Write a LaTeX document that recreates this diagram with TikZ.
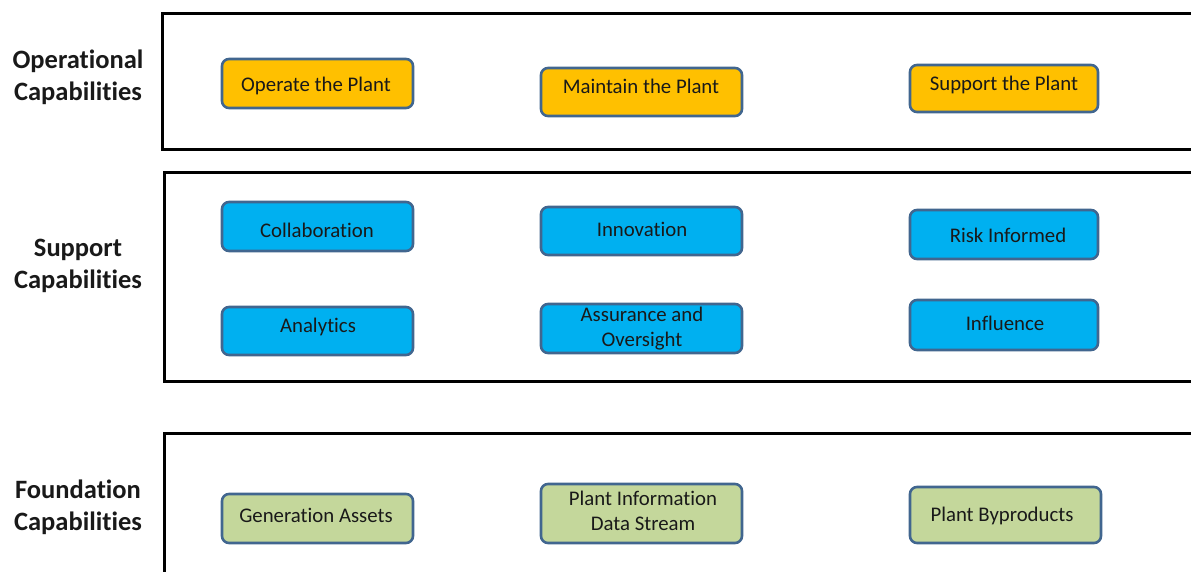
\documentclass[tikz,border=0pt]{standalone}
\usepackage{fontspec}
\setmainfont[Ligatures=NoCommon]{Carlito}
\begin{document}
\begin{tikzpicture}[x=1pt,y=-1pt,
  frame/.style={draw=black,line width=3pt},
  capbox/.style={draw=boxline,line width=2.6pt,rounded corners=7pt,inner sep=0pt},
  opfill/.style={capbox,fill=opcol},
  supfill/.style={capbox,fill=supcol},
  fdfill/.style={capbox,fill=fdcol},
  txt/.style={font=\fontsize{20.8}{25}\selectfont,align=center,inner sep=0pt,text=black!90,yshift=-2pt},
  title/.style={font=\fontsize{26.5}{32}\selectfont\bfseries,align=center,inner sep=0pt,text=black!90,yshift=-2pt}]
\definecolor{boxline}{HTML}{41668F}
\definecolor{opcol}{HTML}{FFC000}
\definecolor{supcol}{HTML}{00B0F0}
\definecolor{fdcol}{HTML}{C4D79B}
\useasboundingbox (0,0) rectangle (1191,572);
% frames
\draw[frame] (1200,14) -- (162,14) -- (162,150) -- (1200,150);
\draw[frame] (1200,173) -- (164,173) -- (164,381) -- (1200,381);
\draw[frame] (1200,433) -- (164,433) -- (164,590);
% titles
\node[title] (t1) at (78,75) {Operational\\Capabilities};
\node[title] (t2) at (78,264) {Support\\Capabilities};
\node[title] (t3) at (78,505) {Foundation\\Capabilities};
% operational
\node[opfill,minimum width=191,minimum height=49] (operate) at (317.5,83.5) {};
\node[txt] (operate-t) at (316,84) {Operate the Plant};
\node[opfill,minimum width=201,minimum height=48] (maintain) at (641.5,92) {};
\node[txt] (maintain-t) at (641,84) {Maintain the Plant};
\node[opfill,minimum width=188,minimum height=47] (supportp) at (1004,88.5) {};
\node[txt] (supportp-t) at (1004,83) {Support the Plant};
% support
\node[supfill,minimum width=191,minimum height=49] (collab) at (317.5,226.5) {};
\node[txt] (collab-t) at (317,228) {Collaboration};
\node[supfill,minimum width=201,minimum height=48] (innov) at (641.5,231) {};
\node[txt] (innov-t) at (642,227) {Innovation};
\node[supfill,minimum width=188,minimum height=49] (risk) at (1004,234.5) {};
\node[txt] (risk-t) at (1008,233) {Risk Informed};
\node[supfill,minimum width=191,minimum height=48] (analytics) at (317.5,331) {};
\node[txt] (analytics-t) at (318,325) {Analytics};
\node[supfill,minimum width=201,minimum height=49] (assur) at (641.5,328.5) {};
\node[txt] (assur-t) at (642,326.5) {Assurance and\\Oversight};
\node[supfill,minimum width=188,minimum height=50] (influence) at (1004,325) {};
\node[txt] (influence-t) at (1005,321) {Influence};
% foundation
\node[fdfill,minimum width=191,minimum height=49] (gen) at (317.5,518.5) {};
\node[txt] (gen-t) at (316,513) {Generation Assets};
\node[fdfill,minimum width=201,minimum height=59] (pids) at (641.5,513.5) {};
\node[txt] (pids-t) at (643,508.5) {Plant Information\\Data Stream};
\node[fdfill,minimum width=191,minimum height=56] (byprod) at (1005.5,515) {};
\node[txt] (byprod-t) at (1002,514) {Plant Byproducts};
\end{tikzpicture}
\end{document}
